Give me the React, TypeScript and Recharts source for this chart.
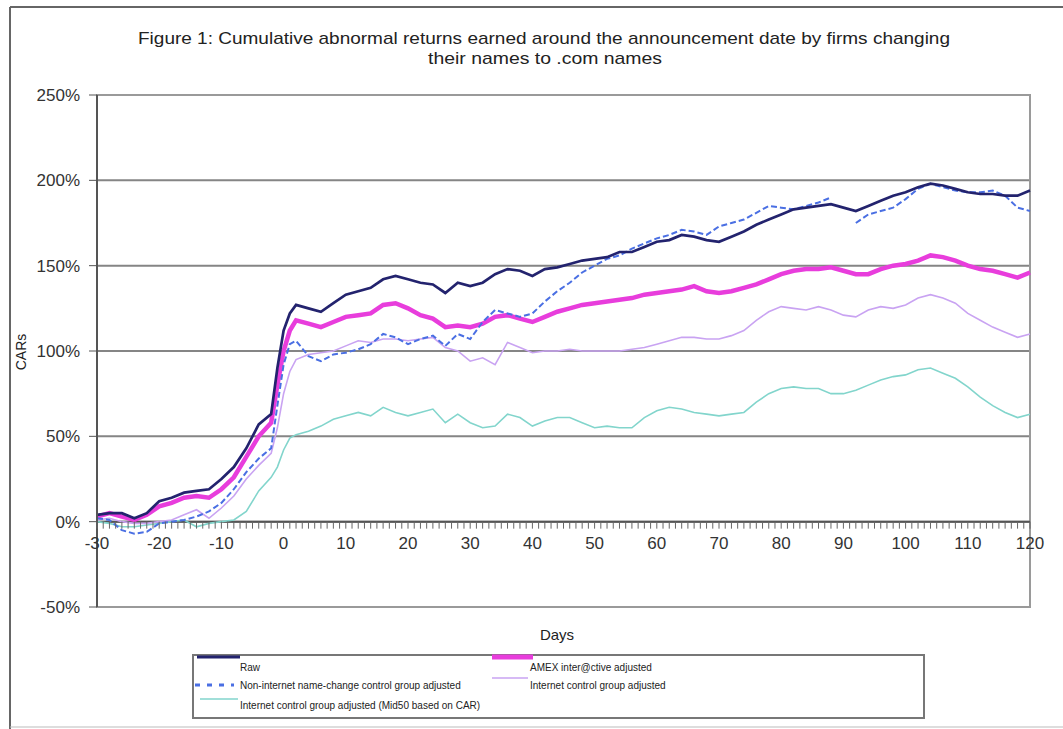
import { LineChart, Line, XAxis, YAxis, CartesianGrid, ReferenceLine, ReferenceArea, ReferenceDot } from "recharts";

const FONT = '"Liberation Sans", Arial, sans-serif';

// event days (denser around the announcement date)
const days = [
  -30, -28, -26, -24, -22, -20, -18, -16, -14, -12, -10, -8, -6, -4, -2, -1, 0, 1, 2,
  4, 6, 8, 10, 12, 14, 16, 18, 20, 22, 24, 26, 28, 30, 32, 34, 36, 38, 40, 42,
  44, 46, 48, 50, 52, 54, 56, 58, 60, 62, 64, 66, 68, 70, 72, 74, 76, 78, 80, 82,
  84, 86, 88, 90, 92, 94, 96, 98, 100, 102, 104, 106, 108, 110, 112, 114, 116, 118, 120,
];

const raw = [
  4, 5, 5, 2, 5, 12, 14, 17, 18, 19, 25, 32, 43, 57, 63, 90, 112, 122, 127,
  125, 123, 128, 133, 135, 137, 142, 144, 142, 140, 139, 134, 140, 138, 140, 145, 148, 147, 144, 148,
  149, 151, 153, 154, 155, 158, 158, 161, 164, 165, 168, 167, 165, 164, 167, 170, 174, 177, 180, 183,
  184, 185, 186, 184, 182, 185, 188, 191, 193, 196, 198, 197, 195, 193, 192, 192, 191, 191, 194,
];

const amex = [
  3, 5, 3, 1, 4, 9, 11, 14, 15, 14, 19, 26, 38, 50, 58, 80, 100, 112, 118,
  116, 114, 117, 120, 121, 122, 127, 128, 125, 121, 119, 114, 115, 114, 116, 120, 121, 119, 117, 120,
  123, 125, 127, 128, 129, 130, 131, 133, 134, 135, 136, 138, 135, 134, 135, 137, 139, 142, 145, 147,
  148, 148, 149, 147, 145, 145, 148, 150, 151, 153, 156, 155, 153, 150, 148, 147, 145, 143, 146,
];

const nonInternet = [
  2, 1, -5, -7, -6, -1, 0, 1, 3, 6, 11, 19, 29, 37, 43, 68, 92, 104, 106,
  97, 94, 98, 99, 101, 104, 110, 108, 104, 107, 109, 103, 110, 107, 117, 124, 122, 120, 122, 129,
  135, 140, 146, 150, 154, 156, 160, 163, 166, 168, 171, 170, 168, 173, 175, 177, 181, 185, 184, 183,
  185, 187, 190, null, 175, 180, 182, 184, 189, 195, 198, 196, 194, 193, 193, 194, 191, 184, 182,
];

const internetCtrl = [
  1, 2, 0, -1, -1, 0, 1, 4, 7, 2, 8, 15, 25, 33, 40, 55, 75, 88, 95,
  98, 99, 100, 103, 106, 105, 107, 107, 106, 107, 108, 102, 100, 94, 96, 92, 105, 102, 99, 100,
  100, 101, 100, 100, 100, 100, 101, 102, 104, 106, 108, 108, 107, 107, 109, 112, 118, 123, 126, 125,
  124, 126, 124, 121, 120, 124, 126, 125, 127, 131, 133, 131, 128, 122, 118, 114, 111, 108, 110,
];

const mid50 = [
  0, -1, -3, -3, -2, -1, 0, 1, -3, -1, 0, 1, 6, 18, 26, 32, 42, 49, 51,
  53, 56, 60, 62, 64, 62, 67, 64, 62, 64, 66, 58, 63, 58, 55, 56, 63, 61, 56, 59,
  61, 61, 58, 55, 56, 55, 55, 61, 65, 67, 66, 64, 63, 62, 63, 64, 70, 75, 78, 79,
  78, 78, 75, 75, 77, 80, 83, 85, 86, 89, 90, 87, 84, 79, 73, 68, 64, 61, 63,
];

const xTicks = [-30, -20, -10, 0, 10, 20, 30, 40, 50, 60, 70, 80, 90, 100, 110, 120];
const yTicks = [-50, 0, 50, 100, 150, 200, 250];
const minorDays = Array.from({ length: 151 }, (_, i) => i - 30);

const C_RAW = "#23236e";
const C_AMEX = "#e83ddc";
const C_NONINT = "#4a6fe3";
const C_INT = "#c9a3f2";
const C_MID = "#82d5cc";

const data = days.map((day, i) => ({
  day,
  raw: raw[i],
  amex: amex[i],
  nonInternet: nonInternet[i],
  internetCtrl: internetCtrl[i],
  mid50: mid50[i],
}));

const App = () => {
  return (
    <div style={{ position: "absolute", left: 0, top: 0, width: 1063, height: 729, background: "#fff", fontFamily: FONT }}>
      <LineChart width={1063} height={729} data={data} margin={{ top: 95, right: 33, bottom: 122, left: 37 }}>
        <XAxis dataKey="day" type="number" domain={[-30, 120]} ticks={xTicks} hide />
        <YAxis
          type="number"
          domain={[-50, 250]}
          ticks={yTicks}
          width={60}
          tickFormatter={(v) => `${v}%`}
          tick={{ fontSize: 17, fill: "#333", fontFamily: FONT }}
          tickSize={8}
          tickMargin={9}
          tickLine={{ stroke: "#555" }}
          axisLine={{ stroke: "#555", strokeWidth: 2 }}
        />
        <CartesianGrid vertical={false} stroke="#858585" strokeWidth={2} />
        <ReferenceArea x1={-30} x2={120} y1={-50} y2={250} fill="none" stroke="#9a9a9a" strokeWidth={2} />
        <ReferenceLine y={0} stroke="#555" strokeWidth={2} />
        {minorDays.map((d) => (
          <ReferenceDot
            key={d}
            x={d}
            y={0}
            r={0}
            shape={(p: any) => (
              <g>
                <line x1={p.cx} y1={p.cy} x2={p.cx} y2={p.cy + 7} stroke="#666" strokeWidth={1} />
                {d % 10 === 0 && (
                  <text x={p.cx} y={p.cy + 23} textAnchor="middle" dominantBaseline="middle" fontSize={17} fill="#333" fontFamily={FONT}>
                    {d}
                  </text>
                )}
              </g>
            )}
          />
        ))}
        <Line type="linear" dataKey="mid50" stroke={C_MID} strokeWidth={1.6} dot={false} isAnimationActive={false} />
        <Line type="linear" dataKey="internetCtrl" stroke={C_INT} strokeWidth={1.6} dot={false} isAnimationActive={false} />
        <Line type="linear" dataKey="amex" stroke={C_AMEX} strokeWidth={4.5} dot={false} isAnimationActive={false} />
        <Line type="linear" dataKey="nonInternet" stroke={C_NONINT} strokeWidth={2} strokeDasharray="6 3" dot={false} isAnimationActive={false} />
        <Line type="linear" dataKey="raw" stroke={C_RAW} strokeWidth={2.7} dot={false} isAnimationActive={false} />
      </LineChart>

      <svg width={1063} height={729} style={{ position: "absolute", left: 0, top: 0, pointerEvents: "none" }}>
        {/* outer frame */}
        <line x1={10} y1={7} x2={1063} y2={7} stroke="#666" strokeWidth={2} />
        <line x1={10} y1={7} x2={10} y2={729} stroke="#666" strokeWidth={2} />
        <line x1={10} y1={727} x2={1063} y2={727} stroke="#bbb" strokeWidth={1} />

        <text x={544} y={40} textAnchor="middle" dominantBaseline="middle" fontSize={17} fill="#222" fontFamily={FONT} textLength={812} lengthAdjust="spacingAndGlyphs">
          Figure 1: Cumulative abnormal returns earned around the announcement date by firms changing
        </text>
        <text x={545} y={60} textAnchor="middle" dominantBaseline="middle" fontSize={17} fill="#222" fontFamily={FONT} textLength={234} lengthAdjust="spacingAndGlyphs">
          their names to .com names
        </text>

        <text x={557} y={636} textAnchor="middle" dominantBaseline="middle" fontSize={15} fill="#222" fontFamily={FONT}>
          Days
        </text>
        <text x={22} y={352} textAnchor="middle" dominantBaseline="middle" fontSize={14} fill="#222" fontFamily={FONT} transform="rotate(-90 22 352)">
          CARs
        </text>

        {/* legend */}
        <rect x={193} y={655} width={731} height={63} fill="none" stroke="#777" strokeWidth={2} />
        <line x1={197} y1={657} x2={240} y2={657} stroke={C_RAW} strokeWidth={3} />
        <text x={240} y={668} dominantBaseline="middle" fontSize={10} fill="#222" fontFamily={FONT}>Raw</text>
        <line x1={195} y1={685} x2={234} y2={685} stroke={C_NONINT} strokeWidth={3} strokeDasharray="5 7" />
        <text x={240} y={686} dominantBaseline="middle" fontSize={10} fill="#222" fontFamily={FONT}>Non-internet name-change control group adjusted</text>
        <line x1={200} y1={699} x2={238} y2={699} stroke={C_MID} strokeWidth={1.6} />
        <text x={240} y={706} dominantBaseline="middle" fontSize={10} fill="#222" fontFamily={FONT}>Internet control group adjusted (Mid50 based on CAR)</text>
        <line x1={492} y1={657} x2={533} y2={657} stroke={C_AMEX} strokeWidth={5} />
        <text x={530} y={668} dominantBaseline="middle" fontSize={10} fill="#222" fontFamily={FONT}>AMEX inter@ctive adjusted</text>
        <line x1={492} y1={678} x2={528} y2={678} stroke={C_INT} strokeWidth={1.6} />
        <text x={530} y={686} dominantBaseline="middle" fontSize={10} fill="#222" fontFamily={FONT}>Internet control group adjusted</text>
      </svg>
    </div>
  );
};

export default App;
